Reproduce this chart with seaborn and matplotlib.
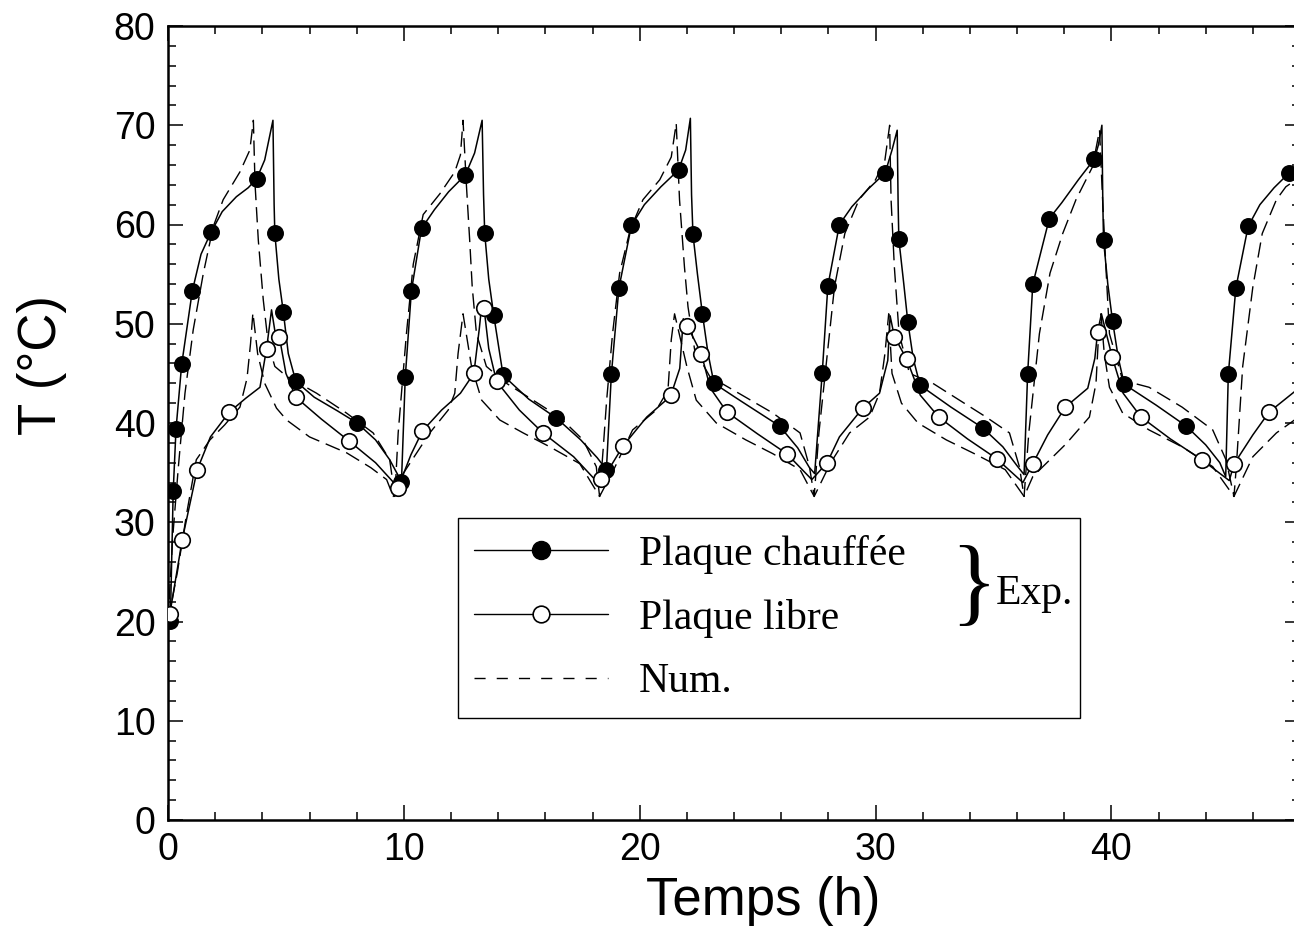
import matplotlib
matplotlib.use("Agg")
import matplotlib.pyplot as plt
import seaborn as sns
from matplotlib.lines import Line2D
from matplotlib.ticker import MultipleLocator

# Plaque chauffée - experimental curve (time h, temperature °C)
heated_exp_t = [0.1, 0.22, 0.34, 0.58, 1.03, 1.4, 1.82, 2.3, 2.9, 3.4, 3.76, 4.1, 4.45, 4.5, 4.53, 4.7, 4.89, 5.1, 5.42, 6.2, 7.2, 8.02, 8.8, 9.4, 9.9,
                10.06, 10.32, 10.75, 11.3, 11.9, 12.61, 13.0, 13.32, 13.38, 13.43, 13.6, 13.81, 14.21, 15.3, 16.47, 17.5, 18.2, 18.59,
                18.8, 19.12, 19.65, 20.2, 20.9, 21.65, 21.95, 22.15, 22.2, 22.26, 22.45, 22.66, 22.9, 23.15, 24.3, 25.93, 26.7, 27.2, 27.42,
                27.74, 27.98, 28.47, 29.0, 29.7, 30.41, 30.7, 30.92, 30.96, 30.99, 31.2, 31.37, 31.6, 31.89, 33.2, 34.55, 35.4, 36.0, 36.3,
                36.45, 36.67, 37.37, 37.9, 38.6, 39.28, 39.45, 39.6, 39.64, 39.67, 39.85, 40.05, 40.3, 40.55, 41.9, 43.17, 44.0, 44.6, 44.85,
                44.96, 45.28, 45.8, 46.3, 46.9, 47.54, 48.0]
heated_exp_T = [20.1, 33.1, 39.4, 45.9, 53.3, 57.0, 59.2, 61.3, 62.8, 63.7, 64.6, 66.5, 70.5, 62.0, 59.1, 54.5, 51.2, 47.0, 44.2, 42.6, 41.2, 40.0, 38.3, 36.3, 34.1,
                44.6, 53.3, 59.6, 61.5, 63.3, 65.0, 67.2, 70.5, 63.0, 59.1, 54.5, 50.9, 44.8, 42.4, 40.5, 38.3, 36.5, 35.3,
                44.9, 53.6, 59.9, 62.0, 63.8, 65.5, 67.5, 70.7, 63.0, 59.0, 55.0, 51.0, 47.0, 44.0, 42.2, 39.7, 37.5, 35.5, 34.9,
                45.0, 53.8, 60.0, 61.8, 63.6, 65.2, 67.5, 69.5, 62.0, 58.5, 54.0, 50.2, 46.5, 43.8, 41.6, 39.5, 37.6, 35.7, 34.8,
                44.9, 54.0, 60.6, 62.2, 64.5, 66.6, 68.0, 70.0, 62.0, 58.4, 54.0, 50.3, 46.5, 43.9, 41.8, 39.7, 37.8, 36.0, 34.6,
                44.9, 53.6, 59.8, 62.0, 63.7, 65.2, 66.0]
heated_mk_t = [0.1, 0.22, 0.34, 0.58, 1.03, 1.82, 3.76, 4.53, 4.89, 5.42, 8.02, 9.9,
               10.06, 10.32, 10.75, 12.61, 13.43, 13.81, 14.21, 16.47, 18.59,
               18.8, 19.12, 19.65, 21.65, 22.26, 22.66, 23.15, 25.93,
               27.74, 27.98, 28.47, 30.41, 30.99, 31.37, 31.89, 34.55,
               36.45, 36.67, 37.37, 39.28, 39.67, 40.05, 40.55, 43.17,
               44.96, 45.28, 45.8, 47.54]
heated_mk_T = [20.1, 33.1, 39.4, 45.9, 53.3, 59.2, 64.6, 59.1, 51.2, 44.2, 40.0, 34.1,
               44.6, 53.3, 59.6, 65.0, 59.1, 50.9, 44.8, 40.5, 35.3,
               44.9, 53.6, 59.9, 65.5, 59.0, 51.0, 44.0, 39.7,
               45.0, 53.8, 60.0, 65.2, 58.5, 50.2, 43.8, 39.5,
               44.9, 54.0, 60.6, 66.6, 58.4, 50.3, 43.9, 39.7,
               44.9, 53.6, 59.8, 65.2]

# Plaque libre - experimental curve
free_exp_t = [0.0, 0.08, 0.6, 1.24, 1.8, 2.6, 3.3, 3.9, 4.18, 4.39, 4.55, 4.72, 5.0, 5.42, 6.5, 7.67, 8.8, 9.76,
              10.3, 10.79, 11.6, 12.4, 12.97, 13.2, 13.3, 13.4, 13.6, 13.93, 14.9, 15.9, 17.2, 18.3,
              19.3, 20.3, 21.31, 21.7, 21.85, 22.02, 22.61, 23.0, 23.7, 25.0, 26.24, 27.3,
              27.95, 28.47, 29.46, 30.17, 30.52, 30.62, 30.8, 31.33, 31.9, 32.68, 33.9, 35.14, 36.25,
              36.67, 37.3, 38.05, 39.0, 39.3, 39.42, 39.58, 40.03, 40.5, 41.26, 42.5, 43.84, 45.0,
              45.21, 46.0, 46.69, 48.0]
free_exp_T = [20.5, 20.8, 28.2, 35.3, 38.6, 41.1, 42.5, 43.6, 47.5, 51.4, 49.0, 48.7, 45.0, 42.6, 40.4, 38.2, 36.0, 33.5,
              36.8, 39.2, 41.3, 43.0, 45.0, 49.5, 51.8, 51.6, 47.5, 44.2, 41.3, 39.0, 36.6, 33.8,
              37.7, 40.6, 42.7, 45.5, 50.5, 49.8, 47.0, 43.5, 41.1, 38.9, 36.9, 34.3,
              36.0, 38.6, 41.5, 43.0, 46.3, 50.8, 48.7, 46.4, 42.8, 40.6, 38.4, 36.4, 34.0,
              35.9, 38.8, 41.6, 43.5, 46.5, 49.2, 51.0, 46.7, 43.0, 40.6, 38.4, 36.3, 34.2,
              35.9, 38.8, 41.1, 43.6]
free_mk_t = [0.08, 0.6, 1.24, 2.6, 4.18, 4.72, 5.42, 7.67, 9.76,
             10.79, 12.97, 13.4, 13.93, 15.9, 18.35,
             19.3, 21.31, 22.02, 22.61, 23.7, 26.24,
             27.95, 29.46, 30.8, 31.33, 32.68, 35.14,
             36.67, 38.05, 39.42, 40.03, 41.26, 43.84,
             45.21, 46.69]
free_mk_T = [20.8, 28.2, 35.3, 41.1, 47.5, 48.7, 42.6, 38.2, 33.5,
             39.2, 45.0, 51.6, 44.2, 39.0, 34.4,
             37.7, 42.8, 49.8, 47.0, 41.1, 36.9,
             36.0, 41.5, 48.7, 46.4, 40.6, 36.4,
             35.9, 41.6, 49.2, 46.7, 40.6, 36.3,
             35.9, 41.1]

# Numerical results (dashed)
heated_num_t = [0.0, 0.2, 0.44, 0.72, 1.07, 1.5, 1.92, 2.34, 3.05, 3.47, 3.62, 3.69, 3.83, 4.04, 4.25, 4.53, 5.03, 6.3, 7.57, 8.7, 9.4, 9.62,
                9.76, 10.11, 10.4, 10.82, 11.53, 12.16, 12.4, 12.51, 12.65, 12.8, 12.9, 13.08, 13.5, 14.35, 15.48, 16.6, 17.6, 18.16, 18.3,
                18.45, 18.6, 18.85, 19.15, 19.6, 20.14, 20.85, 21.34, 21.55, 21.69, 21.9, 22.05, 22.33, 22.97, 23.4, 24.2, 25.65, 26.8, 27.2, 27.4,
                27.6, 27.9, 28.26, 28.7, 29.3, 30.0, 30.4, 30.6, 30.66, 30.8, 31.0, 31.44, 32.43, 33.56, 34.69, 35.68, 36.1, 36.3,
                36.5, 36.95, 37.4, 37.94, 38.5, 39.2, 39.5, 39.63, 39.77, 39.92, 40.48, 41.6, 43.0, 44.3, 44.86, 45.2,
                45.3, 45.57, 46.0, 46.4, 47.0, 47.4, 48.0]
heated_num_T = [20.0, 28.5, 35.6, 43.0, 49.4, 55.1, 59.8, 62.5, 65.3, 67.5, 70.5, 64.1, 58.4, 52.4, 48.0, 45.7, 44.7, 43.0, 41.0, 39.0, 36.3, 32.6,
                39.0, 49.0, 56.0, 61.0, 63.1, 65.3, 67.0, 70.5, 64.1, 58.1, 53.7, 49.0, 45.7, 44.0, 42.3, 40.6, 38.3, 35.6, 32.6,
                37.3, 42.3, 49.0, 55.1, 59.5, 62.5, 64.5, 66.8, 70.2, 62.5, 55.7, 51.7, 47.4, 44.7, 44.1, 43.0, 41.0, 39.0, 35.6, 32.6,
                39.0, 45.7, 53.7, 59.1, 62.5, 64.5, 66.5, 70.0, 62.5, 55.7, 49.0, 45.0, 44.0, 42.3, 40.6, 39.0, 35.6, 32.6,
                39.0, 49.0, 55.1, 59.1, 62.5, 65.8, 69.5, 62.5, 55.7, 49.0, 44.3, 43.6, 41.6, 39.3, 36.3, 32.6,
                35.6, 45.7, 53.7, 59.1, 62.5, 63.8, 64.8]
free_num_t = [0.0, 0.4, 0.8, 1.2, 1.78, 2.4, 3.05, 3.35, 3.5, 3.6, 3.8, 4.1, 4.6, 5.03, 6.0, 7.57, 8.6, 9.27, 9.55,
              9.97, 11.1, 11.88, 12.16, 12.3, 12.51, 12.87, 13.3, 14.07, 15.06, 16.19, 17.46, 18.3,
              18.9, 19.7, 20.7, 21.2, 21.34, 21.48, 22.0, 22.4, 23.25, 24.5, 25.65, 26.8, 27.4,
              28.1, 28.9, 29.75, 30.17, 30.4, 30.56, 30.7, 31.1, 31.8, 33.0, 34.2, 35.5, 36.3,
              36.67, 38.08, 39.07, 39.35, 39.45, 39.56, 39.7, 39.92, 40.48, 41.6, 43.0, 44.3, 45.2,
              46.0, 47.0, 48.0]
free_num_T = [20.0, 25.0, 31.0, 36.3, 38.3, 39.8, 41.6, 44.5, 48.0, 51.1, 47.0, 44.0, 41.5, 40.3, 38.6, 37.0, 35.5, 34.3, 32.6,
              34.9, 39.0, 41.3, 43.0, 47.0, 51.0, 45.7, 42.3, 40.3, 39.0, 37.6, 35.9, 32.6,
              35.3, 39.3, 41.3, 43.3, 48.4, 51.0, 45.7, 42.3, 40.0, 38.3, 36.9, 35.3, 32.6,
              36.0, 39.0, 40.6, 43.0, 47.0, 51.0, 45.0, 42.0, 40.0, 38.3, 36.9, 35.3, 32.6,
              34.6, 37.9, 40.6, 44.0, 48.5, 51.0, 47.0, 43.6, 41.0, 39.3, 37.6, 35.6, 32.6,
              36.6, 39.0, 40.7]

labels = ["Plaque chauffée", "Plaque libre", "Num."]

sns.set_style("ticks")
plt.rcParams["font.family"] = ["Liberation Sans", "DejaVu Sans"]
plt.rcParams["text.color"] = "black"
plt.rcParams["axes.labelcolor"] = "black"

fig = plt.figure(figsize=(12.94, 9.40), dpi=100)
ax = fig.add_axes([168 / 1294, 120 / 940, 1132 / 1294, 794 / 940])

# numerical curves (dashed)
for tt, yy in [(heated_num_t, heated_num_T), (free_num_t, free_num_T)]:
    sns.lineplot(x=tt, y=yy, sort=False, estimator=None, color="black", lw=1.0, ax=ax)
    ax.lines[-1].set_dashes((11, 5))

# experimental curves
sns.lineplot(x=heated_exp_t, y=heated_exp_T, sort=False, estimator=None, color="black", lw=1.1, ax=ax)
sns.lineplot(x=free_exp_t, y=free_exp_T, sort=False, estimator=None, color="black", lw=1.1, ax=ax)
sns.scatterplot(x=heated_mk_t, y=heated_mk_T, color="black", edgecolor="black", s=125, linewidth=1, zorder=4, ax=ax)
sns.scatterplot(x=free_mk_t, y=free_mk_T, color="white", edgecolor="black", s=125, linewidth=1.2, zorder=4, ax=ax)

ax.set_xlim(0, 48)
ax.set_ylim(0, 80)
ax.xaxis.set_major_locator(MultipleLocator(10))
ax.xaxis.set_minor_locator(MultipleLocator(2))
ax.yaxis.set_major_locator(MultipleLocator(10))
ax.yaxis.set_minor_locator(MultipleLocator(2))
ax.tick_params(which="both", direction="in", top=True, right=True, width=1.1, colors="black")
ax.tick_params(which="major", length=11, labelsize=27, pad=9)
ax.tick_params(which="minor", length=6)
for sp in ax.spines.values():
    sp.set_linewidth(1.8)
    sp.set_color("black")

ax.set_xlabel("Temps (h)", fontsize=38, color="black")
ax.set_ylabel("T (°C)", fontsize=38, color="black")
ax.xaxis.set_label_coords(0.5256, -0.07)
ax.yaxis.set_label_coords(-0.089, 0.573)

# legend
handles = [
    Line2D([], [], color="black", lw=1.0, marker="o", ms=13, mfc="black", mec="black"),
    Line2D([], [], color="black", lw=1.0, marker="o", ms=12, mfc="white", mec="black", mew=1.2),
    Line2D([], [], color="black", lw=1.0, dashes=(8, 8)),
]
leg = ax.legend(handles, labels, loc="upper left", bbox_to_anchor=(0.256, 0.135, 0.550, 0.245),
                mode="expand", borderaxespad=0, fancybox=False, framealpha=1, edgecolor="black",
                numpoints=1, handlelength=3.2, handletextpad=0.75, labelspacing=0.6, borderpad=0.4,
                prop={"family": "Liberation Serif", "size": 30})
leg.get_frame().set_linewidth(1.0)
for txt in leg.get_texts():
    txt.set_color("black")
ax.text(0.712, 0.290, "}", transform=ax.transAxes, ha="center", va="center",
        family="Liberation Serif", fontsize=70, zorder=6)
ax.text(0.731, 0.285, "Exp.", transform=ax.transAxes, ha="left", va="center",
        family="Liberation Serif", fontsize=30, zorder=6)

fig.savefig("out.png", dpi=100)
